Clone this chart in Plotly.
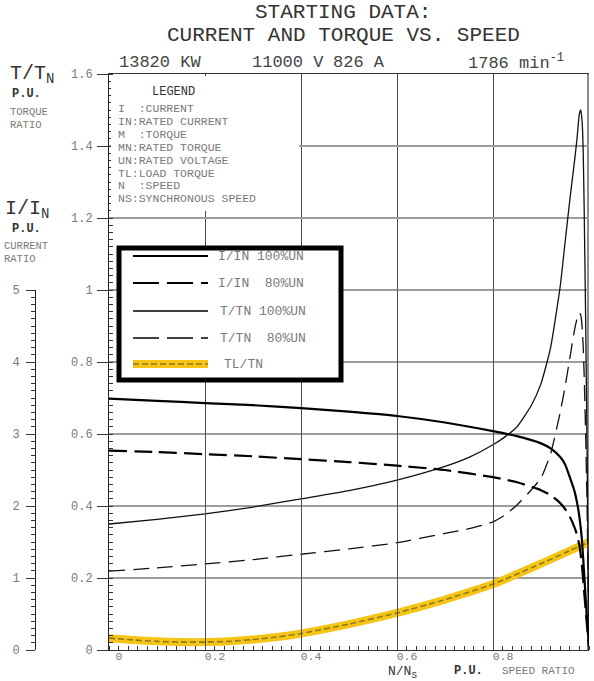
import plotly.graph_objects as go

# ---------------- data ----------------
speed_I = [0, 0.1, 0.2, 0.3, 0.4, 0.5, 0.6, 0.7, 0.8, 0.85, 0.9, 0.92, 0.94, 0.95,
           0.96, 0.97, 0.975, 0.98, 0.985, 0.99, 0.995, 1.0]
current_100 = [3.49, 3.46, 3.43, 3.40, 3.36, 3.31, 3.25, 3.16, 3.04, 2.97, 2.87, 2.80,
               2.68, 2.58, 2.40, 2.20, 2.05, 1.85, 1.55, 1.05, 0.50, 0.05]
current_80 = [2.77, 2.75, 2.72, 2.69, 2.65, 2.61, 2.56, 2.50, 2.40, 2.33, 2.22, 2.15,
              2.04, 1.96, 1.85, 1.70, 1.60, 1.45, 1.20, 0.80, 0.40, 0.05]

speed_T = [0, 0.1, 0.2, 0.3, 0.4, 0.5, 0.6, 0.7, 0.75, 0.8, 0.825, 0.85, 0.88, 0.9, 0.92, 0.94,
           0.95, 0.96, 0.97, 0.975, 0.98, 0.983, 0.986, 0.988, 0.99, 0.993, 0.996, 1.0]
torque_100 = [0.350, 0.363, 0.378, 0.397, 0.420, 0.443, 0.472, 0.510, 0.535, 0.570, 0.592, 0.620,
              0.680, 0.740, 0.840, 1.010, 1.130, 1.250, 1.360, 1.420, 1.490, 1.500,
              1.460, 1.380, 1.220, 0.920, 0.550, 0.0]
torque_80 = [0.219, 0.228, 0.239, 0.251, 0.266, 0.281, 0.298, 0.324, 0.337, 0.356, 0.375, 0.403,
             0.445, 0.478, 0.545, 0.660, 0.730, 0.810, 0.890, 0.920, 0.936, 0.930,
             0.890, 0.840, 0.760, 0.600, 0.400, 0.0]

speed_L = [0, 0.05, 0.1, 0.15, 0.2, 0.25, 0.3, 0.35, 0.4, 0.5, 0.6, 0.7, 0.8, 0.9, 0.95, 1.0]
load_torque = [0.033, 0.028, 0.024, 0.022, 0.022, 0.024, 0.029, 0.036, 0.046, 0.072,
               0.103, 0.140, 0.183, 0.240, 0.270, 0.300]

torque_ticks = [0, 0.2, 0.4, 0.6, 0.8, 1, 1.2, 1.4, 1.6]
torque_ticktext = ["0", "0.2", "0.4", "0.6", "0.8", "1", "1.2", "1.4", "1.6"]
current_ticks = [0, 1, 2, 3, 4, 5]
speed_ticks = [0, 0.2, 0.4, 0.6, 0.8, 1]
speed_ticktext = ["0", "0.2", "0.4", "0.6", "0.8", "1"]

legend_rows = ["I  :CURRENT", "IN:RATED CURRENT", "M  :TORQUE", "MN:RATED TORQUE",
               "UN:RATED VOLTAGE", "TL:LOAD TORQUE", "N  :SPEED", "NS:SYNCHRONOUS SPEED"]
series_names = ["I/IN 100%UN", "I/IN  80%UN", "T/TN 100%UN", "T/TN  80%UN", "TL/TN"]

# ---------------- geometry helpers ----------------
W, H = 594, 681
ML, MR, MT, MB = 0, 5, 74, 31
PW = W - ML - MR
PH = H - MT - MB
def px(x):
    return (x - ML) / PW
def py(y):
    return (H - MB - y) / PH

MONO = "Liberation Mono"
GRAY = "#7a7a7a"
YEL = "#F5C414"
GOLD = "#8f7a1c"

fig = go.Figure()

# load torque (yellow highlighted, dashed)
fig.add_trace(go.Scatter(x=speed_L, y=load_torque, mode="lines", line=dict(color=YEL, width=8, shape="spline", smoothing=0.6),
                         hoverinfo="skip", showlegend=False))
fig.add_trace(go.Scatter(x=speed_L, y=load_torque, mode="lines", name="TL/TN",
                         line=dict(color=GOLD, width=1.6, dash="6px,3px", shape="spline", smoothing=0.6), showlegend=False))
# torque curves
fig.add_trace(go.Scatter(x=speed_T, y=torque_100, mode="lines", name="T/TN 100%UN",
                         line=dict(color="#111", width=1.3, shape="spline", smoothing=0.5), showlegend=False))
fig.add_trace(go.Scatter(x=speed_T, y=torque_80, mode="lines", name="T/TN 80%UN",
                         line=dict(color="#111", width=1.3, dash="16px,8px", shape="spline", smoothing=0.5), showlegend=False))
# current curves on the current axis
fig.add_trace(go.Scatter(x=speed_I, y=current_100, mode="lines", name="I/IN 100%UN", yaxis="y2",
                         line=dict(color="#000", width=2.2, shape="spline", smoothing=0.5), showlegend=False))
fig.add_trace(go.Scatter(x=speed_I, y=current_80, mode="lines", name="I/IN 80%UN", yaxis="y2",
                         line=dict(color="#000", width=2.2, dash="18px,7px", shape="spline", smoothing=0.5), showlegend=False))

shapes = []
# right border (thick gray)
shapes.append(dict(type="line", xref="x", yref="y", x0=1, x1=1, y0=0, y1=1.6,
                   line=dict(color="#8c8c8c", width=4), layer="below"))
# legend text box (white, hides gridlines)
shapes.append(dict(type="rect", xref="paper", yref="paper", x0=px(111), x1=px(299), y0=py(211), y1=py(76),
                   fillcolor="white", line=dict(width=0), layer="above"))
# line legend box
shapes.append(dict(type="rect", xref="paper", yref="paper", x0=px(119), x1=px(341), y0=py(380), y1=py(248),
                   fillcolor="white", line=dict(color="black", width=5), layer="above"))
rows_y = [256, 283, 311, 338, 364]
x0s, x1s = px(133), px(208)
shapes.append(dict(type="line", xref="paper", yref="paper", x0=x0s, x1=x1s, y0=py(rows_y[0]), y1=py(rows_y[0]),
                   line=dict(color="black", width=2.2), layer="above"))
shapes.append(dict(type="line", xref="paper", yref="paper", x0=x0s, x1=x1s, y0=py(rows_y[1]), y1=py(rows_y[1]),
                   line=dict(color="black", width=2.2, dash="26px,8px"), layer="above"))
shapes.append(dict(type="line", xref="paper", yref="paper", x0=x0s, x1=x1s, y0=py(rows_y[2]), y1=py(rows_y[2]),
                   line=dict(color="black", width=1.3), layer="above"))
shapes.append(dict(type="line", xref="paper", yref="paper", x0=x0s, x1=x1s, y0=py(rows_y[3]), y1=py(rows_y[3]),
                   line=dict(color="black", width=1.3, dash="26px,8px"), layer="above"))
shapes.append(dict(type="line", xref="paper", yref="paper", x0=x0s, x1=x1s, y0=py(rows_y[4]), y1=py(rows_y[4]),
                   line=dict(color=YEL, width=8), layer="above"))
shapes.append(dict(type="line", xref="paper", yref="paper", x0=x0s, x1=x1s, y0=py(rows_y[4]), y1=py(rows_y[4]),
                   line=dict(color=GOLD, width=1.6, dash="6px,3px"), layer="above"))

ann = []
def text(x, y, s, size=12, color="#222", anchor="left", family=MONO, yanchor="middle"):
    ann.append(dict(xref="paper", yref="paper", x=px(x), y=py(y), text=s, showarrow=False,
                    xanchor=anchor, yanchor=yanchor, font=dict(family=family, size=size, color=color)))

# titles
text(343, 12, "STARTING DATA:", size=21, anchor="center", color="#333")
text(343, 36, "CURRENT AND TORQUE VS. SPEED", size=21, anchor="center", color="#333")
text(117, 63, "13820 KW", size=17, color="#444")
text(250, 63, "11000 V", size=17, color="#444")
text(331, 63, "826 A", size=17, color="#444")
text(466, 62, "1786 min<sup>-1</sup>", size=17, color="#444")

# left labels
text(8, 74, "T/T<sub>N</sub>", size=20, color="#333")
text(10, 94, "<b>P.U.</b>", size=12, color="#333")
text(8, 112, "TORQUE", size=10.5, color=GRAY)
text(8, 125, "RATIO", size=10.5, color=GRAY)
text(3, 209, "I/I<sub>N</sub>", size=20, color="#333")
text(10, 229, "<b>P.U.</b>", size=12, color="#333")
text(2, 246, "CURRENT", size=10.5, color=GRAY)
text(2, 259, "RATIO", size=10.5, color=GRAY)

# bottom labels
text(386, 672, "N/N<sub>S</sub>", size=13, color="#333")
text(452, 671, "<b>P.U.</b>", size=12, color="#333")
text(500, 671, "SPEED RATIO", size=11, color=GRAY)

# legend text block
text(150, 92, "LEGEND", size=12, color="#333")
for i, s in enumerate(legend_rows):
    text(116, 109 + 12.8 * i, s, size=11.5, color=GRAY)

# line legend labels
lab_x = [216, 216, 218, 218, 222]
for i, s in enumerate(series_names):
    text(lab_x[i], rows_y[i], s.replace(" ", "&nbsp;"), size=13, color=GRAY)

fig.update_layout(
    width=W, height=H,
    margin=dict(l=ML, r=MR, t=MT, b=MB),
    paper_bgcolor="white", plot_bgcolor="rgba(0,0,0,0)",
    showlegend=False,
    shapes=shapes, annotations=ann,
    xaxis=dict(domain=[px(109), 1], range=[0, 1], tickvals=speed_ticks, ticktext=speed_ticktext,
               showgrid=True, gridcolor="#4a4a4a", gridwidth=1, zeroline=False,
               showline=True, linecolor="#333", linewidth=1, mirror=True,
               ticks="", tickcolor="#333",
               minor=dict(dtick=0.02, ticks="inside", ticklen=4, tickcolor="#333", showgrid=False),
               tickfont=dict(family=MONO, size=11.5, color=GRAY), ticklabelshift=10, ticklabelstandoff=-5),
    yaxis=dict(domain=[0, 1], range=[0, 1.6], tickvals=torque_ticks, ticktext=torque_ticktext,
               anchor="x", showgrid=True, gridcolor="#9c9c9c", gridwidth=1.5, zeroline=False,
               showline=True, linecolor="#222", linewidth=1,
               ticks="outside", ticklen=11, tickcolor="#333",
               minor=dict(dtick=0.02, ticks="inside", ticklen=4, tickcolor="#333", showgrid=False),
               tickfont=dict(family=MONO, size=12, color=GRAY), ticklabelstandoff=2),
    yaxis2=dict(domain=[0, py(290)], range=[0, 5], anchor="free", position=px(35), side="left",
                tickvals=current_ticks, showgrid=False, zeroline=False,
                showline=True, linecolor="#222", linewidth=1,
                ticks="outside", ticklen=9, tickcolor="#333",
                minor=dict(dtick=0.1, ticks="outside", ticklen=4, tickcolor="#333", showgrid=False),
                tickfont=dict(family=MONO, size=12, color=GRAY), ticklabelstandoff=4),
)

fig.write_html("out.html")
